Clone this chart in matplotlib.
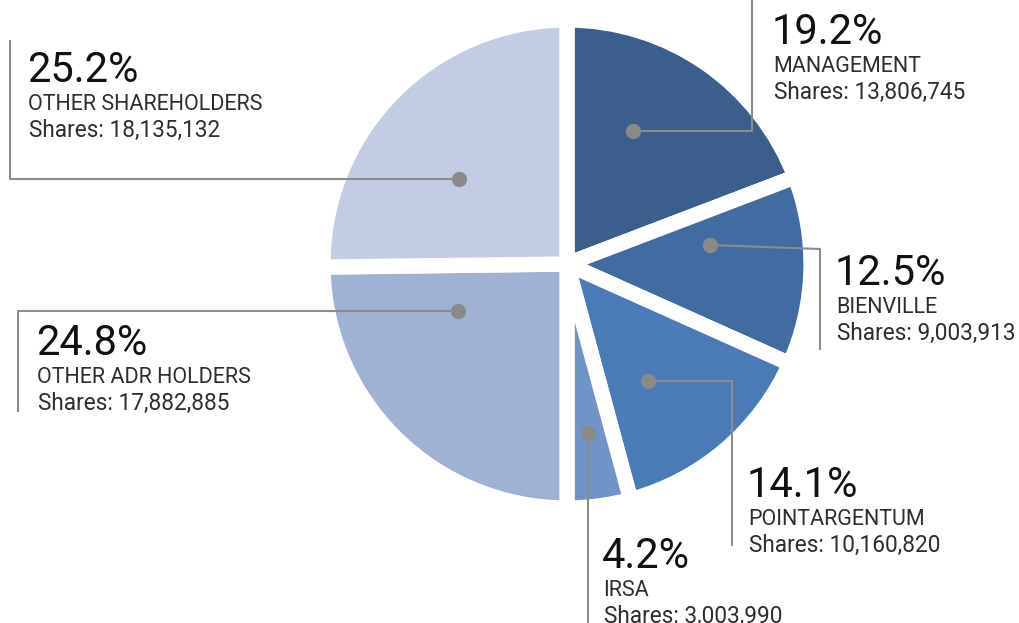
import matplotlib
matplotlib.use("Agg")
import matplotlib.pyplot as plt

# data, clockwise from 12 o'clock
labels = ["MANAGEMENT", "BIENVILLE", "POINTARGENTUM", "IRSA",
          "OTHER ADR HOLDERS", "OTHER SHAREHOLDERS"]
percents = [19.2, 12.5, 14.1, 4.2, 24.8, 25.2]
shares = ["13,806,745", "9,003,913", "10,160,820", "3,003,990",
          "17,882,885", "18,135,132"]
colors = ["#3b5e8c", "#416ba1", "#4a7bb7", "#7194c8", "#a0b2d4", "#c2cde3"]

W, H = 1020, 623

# leader lines in pixel coords (y from top): dot -> elbow -> end
leaders = [
    [(633, 131), (752, 131), (752, 0)],
    [(710, 245), (820, 249), (820, 350)],
    [(648, 381), (732, 381), (732, 546)],
    [(588, 433), (588, 433), (588, 623)],
    [(458, 311), (18, 311), (18, 412)],
    [(459, 179), (10, 179), (10, 40)],
]
# text anchor (left x, baseline of percent) in pixel coords
text_pos = [(772, 44), (835, 285), (747, 497), (602, 568), (36, 355), (27, 82)]


def Y(y):
    return H - y


fig = plt.figure(figsize=(W / 100, H / 100), dpi=100)
ax = fig.add_axes([0, 0, 1, 1])

ax.pie(percents, colors=colors, startangle=90, counterclock=False,
       center=(567, Y(264)), radius=244, frame=True,
       explode=[0.012] * len(percents),
       wedgeprops=dict(edgecolor="white", linewidth=11))

for path in leaders:
    xs = [p[0] for p in path]
    ys = [Y(p[1]) for p in path]
    ax.plot(xs, ys, color="#8c8c8c", lw=1.5, solid_capstyle="butt", zorder=3)
    ax.plot(xs[0], ys[0], "o", color="#8a8a8a", ms=10, zorder=4)

for (x, y), pct, lab, sh in zip(text_pos, percents, labels, shares):
    ax.text(x, Y(y), f"{pct:.1f}%", fontsize=30, family="Roboto",
            color="#111111", va="baseline", ha="left")
    ax.text(x + 1, Y(y + 28), lab, fontsize=15.5, family="Roboto",
            color="#2e2e2e", va="baseline", ha="left")
    ax.text(x + 2, Y(y + 55), f"Shares: {sh}", fontsize=16.3, family="Roboto",
            color="#2e2e2e", va="baseline", ha="left")

ax.set_xlim(0, W)
ax.set_ylim(0, H)
ax.set_aspect("equal")
ax.axis("off")

fig.savefig("out.png", dpi=100, facecolor="white")
